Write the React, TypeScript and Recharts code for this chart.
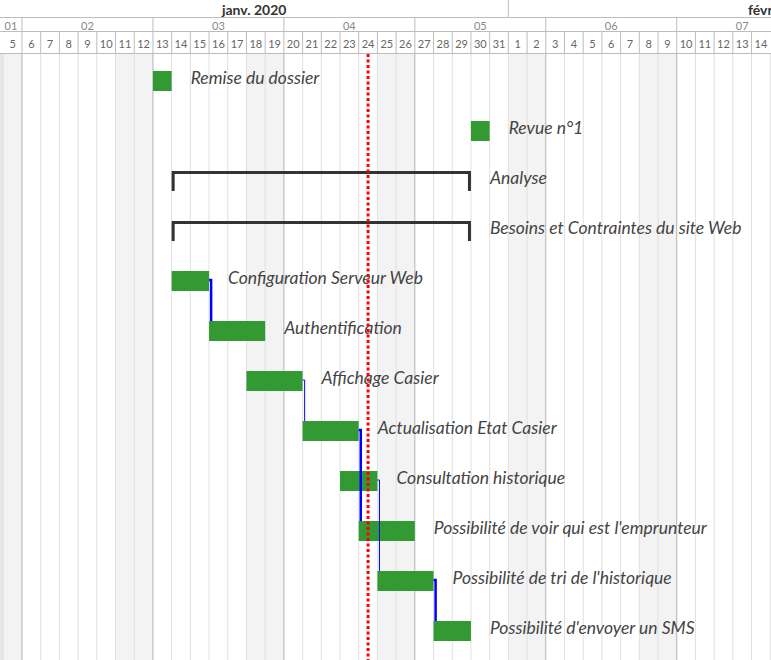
import React from 'react';
import { ComposedChart, XAxis, YAxis, ReferenceArea, ReferenceLine, Line, Scatter } from 'recharts';

const CHART_W = 771;
const CHART_H = 660;

// Time axis: t = days since the start of 1 Jan 2020
const X_DOMAIN: [number, number] = [3.824, 45.04];
// Row axis: row i occupies [i, i+1]
const Y_DOMAIN: [number, number] = [-0.02, 12.1];
const PX_PER_DAY = CHART_W / (X_DOMAIN[1] - X_DOMAIN[0]);

// ---- data ----
const taskNames = [
  'Remise du dossier',
  'Revue n°1',
  'Analyse',
  'Besoins et Contraintes du site Web',
  'Configuration Serveur Web',
  'Authentification',
  'Affichage Casier',
  'Actualisation Etat Casier',
  'Consultation historique',
  "Possibilité de voir qui est l'emprunteur",
  "Possibilité de tri de l'historique",
  "Possibilité d'envoyer un SMS",
];
const taskKinds = ['milestone', 'milestone', 'summary', 'summary', 'task', 'task', 'task', 'task', 'task', 'task', 'task', 'task'];
// day of January 2020, first and last day (inclusive)
const taskStartDay = [13, 30, 14, 14, 14, 16, 18, 21, 23, 24, 25, 28];
const taskEndDay = [13, 30, 29, 29, 15, 18, 20, 23, 24, 26, 27, 29];

const depFrom = [4, 6, 7, 8, 10];
const depTo = [5, 7, 9, 10, 11];
const depCritical = [true, false, true, false, true];

const todayDay = 24; // 24 janv.

// header labels
const dayNumbers = [5, 6, 7, 8, 9, 10, 11, 12, 13, 14, 15, 16, 17, 18, 19, 20, 21, 22, 23, 24, 25, 26, 27, 28, 29, 30, 31, 1, 2, 3, 4, 5, 6, 7, 8, 9, 10, 11, 12, 13, 14];
const dayFirstT = 4; // 5 janv.
const weekLabels = ['01', '02', '03', '04', '05', '06', '07'];
const weekStartT = [-2, 5, 12, 19, 26, 33, 40];
const monthLabels = ['janv. 2020', 'févr. 2020'];
const monthStartT = [0, 31];
const monthEndT = [31, 60];

// ---- derived ----
const tStart = (day: number) => day - 1;
const tEnd = (day: number) => day;

const visibleCenter = (s: number, e: number) => (Math.max(s, X_DOMAIN[0]) + e) / 2;
const dayTicks = dayNumbers.map((_, k) => dayFirstT + k + 0.5);
const weekTicks = weekStartT.map((s) => visibleCenter(s, s + 7));
const monthTicks = monthStartT.map((s, k) => visibleCenter(s, monthEndT[k]));

const allDays: number[] = [];
for (let t = Math.floor(X_DOMAIN[0]); t < X_DOMAIN[1]; t++) allDays.push(t);
const dow = (t: number) => new Date(2020, 0, 1 + t).getDay();
const weekendDays = allDays.filter((t) => dow(t) === 0 || dow(t) === 6);
const boundaries = allDays.filter((t) => t > X_DOMAIN[0]);

const labelData = taskNames.map((label, i) => ({ x: tEnd(taskEndDay[i]), y: i + 0.5, label }));
const weekAnchors = weekTicks.map((x) => ({ x, y: -1 }));
const monthAnchors = monthTicks.map((x) => ({ x, y: -1 }));

const LINE_C = '#bdbdbd';
const FONT = 'Lato, "Open Sans", sans-serif';

const nearestIndex = (arr: number[], v: number) => {
  let best = -1;
  let bd = 1e9;
  arr.forEach((a, i) => {
    const d = Math.abs(a - v);
    if (d < bd) { bd = d; best = i; }
  });
  return bd < 1e-6 ? best : -1;
};

function MonthTick(props: any) {
  const { x, payload } = props;
  const k = nearestIndex(monthTicks, payload.value);
  if (k < 0) return <g />;
  const bx = x + (monthStartT[k] - payload.value) * PX_PER_DAY;
  return (
    <g>
      {k === 0 && <line x1={0} x2={CHART_W} y1={17.5} y2={17.5} stroke={LINE_C} />}
      {monthStartT[k] > X_DOMAIN[0] && <line x1={bx} x2={bx} y1={0} y2={18} stroke={LINE_C} />}
      <text x={x} y={9} textAnchor="middle" dominantBaseline="central" fontFamily={FONT} fontSize={14} fontWeight={700} fill="#333">
        {monthLabels[k]}
      </text>
    </g>
  );
}

function WeekTick(props: any) {
  const { x, payload } = props;
  const k = nearestIndex(weekTicks, payload.value);
  if (k < 0) return <g />;
  const bx = x + (weekStartT[k] - payload.value) * PX_PER_DAY;
  return (
    <g>
      {k === 0 && <line x1={0} x2={CHART_W} y1={31.5} y2={31.5} stroke={LINE_C} />}
      {weekStartT[k] > X_DOMAIN[0] && <line x1={bx} x2={bx} y1={18} y2={32} stroke={LINE_C} />}
      <text x={x} y={25} textAnchor="middle" dominantBaseline="central" fontFamily={FONT} fontSize={11} fill="#888">
        {weekLabels[k]}
      </text>
    </g>
  );
}

function DayTick(props: any) {
  const { x, payload } = props;
  const k = Math.round(payload.value - dayFirstT - 0.5);
  const bx = x - PX_PER_DAY / 2;
  return (
    <g>
      {k === 0 && <line x1={0} x2={CHART_W} y1={53.5} y2={53.5} stroke={LINE_C} />}
      {k > 0 && <line x1={bx} x2={bx} y1={32} y2={54} stroke={LINE_C} />}
      <text x={x} y={43} textAnchor="middle" dominantBaseline="central" fontFamily={FONT} fontSize={11} fill="#666">
        {dayNumbers[k]}
      </text>
    </g>
  );
}

function TaskLabel(props: any) {
  const { cx, cy, payload } = props;
  if (cx == null || cy == null) return <g />;
  return (
    <text x={cx + 19} y={cy - 2.5} dominantBaseline="central" fontFamily={FONT} fontStyle="italic" fontSize={17.5} fill="#444">
      {payload.label}
    </text>
  );
}

const Empty = () => <g />;

export default function App() {
  const BAR_TOP = 0.32;
  const BAR_BOTTOM = 0.72;
  const INSET = 0.08;
  const DEP_STEP = 0.11;
  return (
    <div style={{ position: 'absolute', left: 0, top: 0, width: CHART_W, height: CHART_H, background: '#fff', overflow: 'hidden' }}>
      <ComposedChart width={CHART_W} height={CHART_H} margin={{ top: 0, right: 0, bottom: 0, left: 0 }}>
        <XAxis xAxisId="days" dataKey="x" type="number" orientation="top" domain={X_DOMAIN} allowDataOverflow
          height={22} ticks={dayTicks} interval={0} tick={(p: any) => <DayTick {...p} />} tickLine={false} axisLine={false} />
        <XAxis xAxisId="weeks" dataKey="x" type="number" orientation="top" domain={X_DOMAIN} allowDataOverflow
          height={14} ticks={weekTicks} interval={0} tick={(p: any) => <WeekTick {...p} />} tickLine={false} axisLine={false} />
        <XAxis xAxisId="months" dataKey="x" type="number" orientation="top" domain={X_DOMAIN} allowDataOverflow
          height={18} ticks={monthTicks} interval={0} tick={(p: any) => <MonthTick {...p} />} tickLine={false} axisLine={false} />
        <YAxis type="number" dataKey="y" domain={Y_DOMAIN} allowDataOverflow reversed hide />

        {/* anchors so that the header axes have series attached */}
        <Scatter xAxisId="weeks" data={weekAnchors} isAnimationActive={false} shape={Empty} />
        <Scatter xAxisId="months" data={monthAnchors} isAnimationActive={false} shape={Empty} />

        {/* splitter strip and weekends */}
        <ReferenceArea xAxisId="days" x1={X_DOMAIN[0]} x2={Math.ceil(X_DOMAIN[0])} fill="#e6e6e6" fillOpacity={1} stroke="none" zIndex={10} />
        {weekendDays.map((t) => (
          <ReferenceArea key={'we' + t} xAxisId="days" x1={Math.max(t, Math.ceil(X_DOMAIN[0]))} x2={t + 1} fill="#f3f3f3" fillOpacity={1} stroke="none" zIndex={10} />
        ))}

        {/* day grid */}
        {boundaries.map((t) => (
          <ReferenceLine key={'g' + t} xAxisId="days" x={t} stroke={dow(t) === 1 ? '#b3b3b3' : '#e0e0e0'} strokeWidth={1} zIndex={20} />
        ))}

        {/* tasks and milestones */}
        {taskNames.map((_, i) =>
          taskKinds[i] === 'summary' ? null : (
            <ReferenceArea key={'b' + i} xAxisId="days" x1={tStart(taskStartDay[i])} x2={tEnd(taskEndDay[i])}
              y1={i + BAR_TOP} y2={i + BAR_BOTTOM} fill="#339933" fillOpacity={1} stroke="none" zIndex={30} />
          )
        )}

        {/* summary brackets */}
        {taskNames.map((_, i) =>
          taskKinds[i] !== 'summary' ? null : (
            <Line key={'s' + i} xAxisId="days" dataKey="y" isAnimationActive={false} dot={false} activeDot={false}
              stroke="#333" strokeWidth={3} strokeLinejoin="miter" strokeLinecap="butt" zIndex={40}
              data={[
                { x: tStart(taskStartDay[i]) + INSET, y: i + BAR_BOTTOM },
                { x: tStart(taskStartDay[i]) + INSET, y: i + 0.35 },
                { x: tEnd(taskEndDay[i]) - INSET, y: i + 0.35 },
                { x: tEnd(taskEndDay[i]) - INSET, y: i + BAR_BOTTOM },
              ]} />
          )
        )}

        {/* dependencies */}
        {depFrom.map((f, k) => {
          const ex = tEnd(taskEndDay[f]);
          const to = depTo[k];
          return (
            <Line key={'d' + k} xAxisId="days" dataKey="y" isAnimationActive={false} dot={false} activeDot={false}
              stroke="#0000ff" strokeWidth={depCritical[k] ? 2.5 : 1} strokeLinejoin="miter" zIndex={45}
              data={[
                { x: ex, y: f + 0.5 },
                { x: ex + DEP_STEP, y: f + 0.5 },
                { x: ex + DEP_STEP, y: to + BAR_TOP },
              ]} />
          );
        })}

        {/* labels */}
        <Scatter xAxisId="days" data={labelData} isAnimationActive={false} shape={(p: any) => <TaskLabel {...p} />} zIndex={50} />

        {/* today */}
        <ReferenceLine xAxisId="days" x={tStart(todayDay) + 0.5} stroke="#ff0000" strokeWidth={3} strokeDasharray="3 2.5" zIndex={60} />
      </ComposedChart>
    </div>
  );
}
